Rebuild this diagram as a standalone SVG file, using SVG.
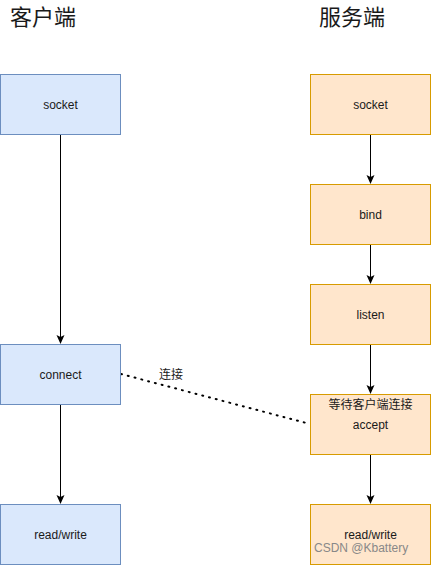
<svg xmlns="http://www.w3.org/2000/svg" width="431" height="565" viewBox="0 0 431 565">
<style>
.c{fill:#dae8fc;stroke:#6c8ebf;stroke-width:1}
.s{fill:#ffe6cc;stroke:#d79b00;stroke-width:1}
.t{font-family:"Liberation Sans","Noto Sans CJK SC",sans-serif;font-size:12px;fill:#1a1a1a;text-anchor:middle}
.h{font-family:"Liberation Sans","Noto Sans CJK SC",sans-serif;font-size:22px;fill:#1a1a1a}
.e{stroke:#000;stroke-width:1;fill:none}
</style>
<defs>
<marker id="a" markerWidth="10" markerHeight="10" refX="8" refY="5" orient="auto" markerUnits="userSpaceOnUse">
<path d="M0,1 L9,5 L0,9 L2,5 Z" fill="#000"/>
</marker>
</defs>
<rect width="431" height="565" fill="#fff"/>
<text class="h" x="10" y="25">客户端</text>
<text class="h" x="319" y="25">服务端</text>
<g id="edges">
<line class="e" x1="60.5" y1="134" x2="60.5" y2="343" marker-end="url(#a)"/>
<line class="e" x1="60.5" y1="404" x2="60.5" y2="503" marker-end="url(#a)"/>
<line class="e" x1="370.5" y1="134" x2="370.5" y2="183" marker-end="url(#a)"/>
<line class="e" x1="370.5" y1="244" x2="370.5" y2="283" marker-end="url(#a)"/>
<line class="e" x1="370.5" y1="344" x2="370.5" y2="393" marker-end="url(#a)"/>
<line class="e" x1="370.5" y1="454" x2="370.5" y2="503" marker-end="url(#a)"/>
<line x1="121" y1="374" x2="310" y2="424" stroke="#000" stroke-width="2" stroke-dasharray="1 6" stroke-linecap="round"/>
<text class="t" x="171" y="379">连接</text>
</g>
<g id="c-socket"><rect class="c" x="0.5" y="74.5" width="120" height="60"/><text class="t" x="60.5" y="108.5">socket</text></g>
<g id="c-connect"><rect class="c" x="0.5" y="344.5" width="120" height="60"/><text class="t" x="60.5" y="378.5">connect</text></g>
<g id="c-rw"><rect class="c" x="0.5" y="504.5" width="120" height="60"/><text class="t" x="60.5" y="538.5">read/write</text></g>
<g id="s-socket"><rect class="s" x="310.5" y="74.5" width="120" height="60"/><text class="t" x="370.5" y="108.5">socket</text></g>
<g id="s-bind"><rect class="s" x="310.5" y="184.5" width="120" height="60"/><text class="t" x="370.5" y="218.5">bind</text></g>
<g id="s-listen"><rect class="s" x="310.5" y="284.5" width="120" height="60"/><text class="t" x="370.5" y="318.5">listen</text></g>
<g id="s-accept"><rect class="s" x="310.5" y="394.5" width="120" height="60"/><text class="t" x="370.5" y="408.5">等待客户端连接</text><text class="t" x="370.5" y="428.5">accept</text></g>
<g id="s-rw"><rect class="s" x="310.5" y="504.5" width="120" height="60"/><text class="t" x="370.5" y="538.5">read/write</text></g>
<text x="314" y="552" font-family="Liberation Sans,sans-serif" font-size="12" fill="#888">CSDN @Kbattery</text>
</svg>
